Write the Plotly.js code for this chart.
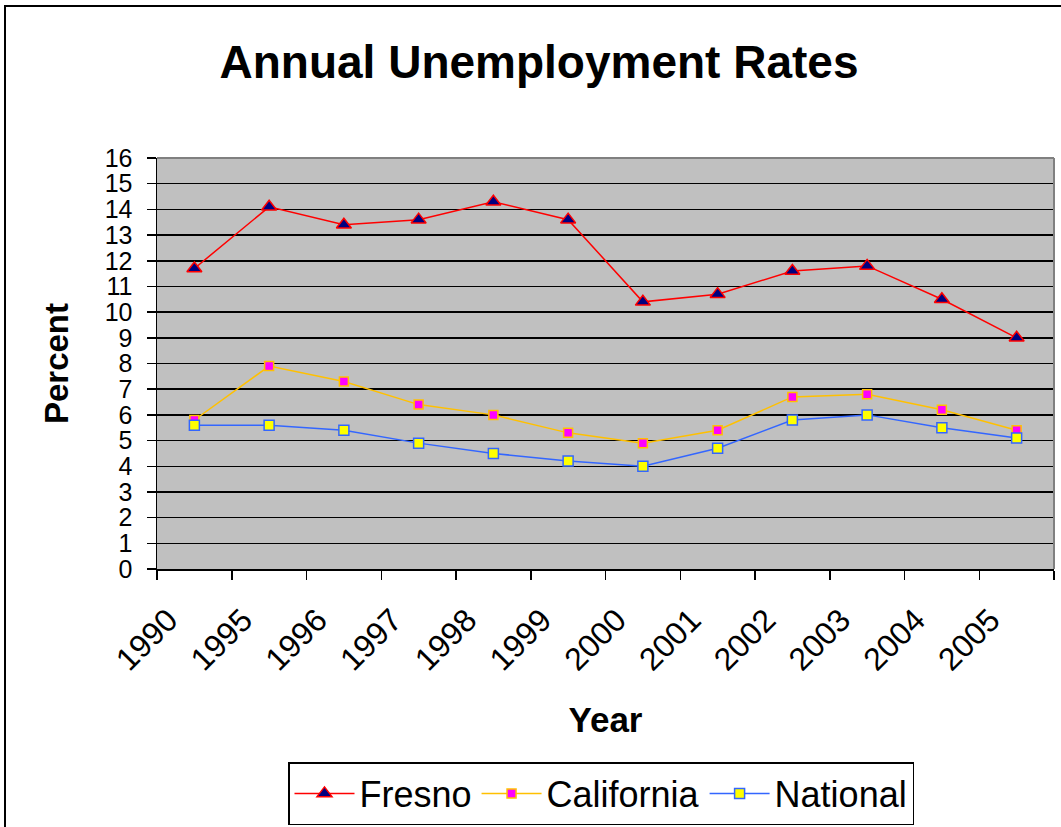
<!DOCTYPE html>
<html>
<head>
<meta charset="utf-8">
<script src="https://cdn.plot.ly/plotly-3.0.1.min.js"></script>
<style>
html,body{margin:0;padding:0;background:#fff;}
#chart{width:1061px;height:827px;}
</style>
</head>
<body>
<div id="chart"></div>
<script>
const years = ["1990","1995","1996","1997","1998","1999","2000","2001","2002","2003","2004","2005"];
const fresno = [11.7,14.1,13.4,13.6,14.3,13.6,10.4,10.7,11.6,11.8,10.5,9.0];
const california = [5.8,7.9,7.3,6.4,6.0,5.3,4.9,5.4,6.7,6.8,6.2,5.4];
const national = [5.6,5.6,5.4,4.9,4.5,4.2,4.0,4.7,5.8,6.0,5.5,5.1];

const traces = [
  {x: years, y: fresno, name: "Fresno", type: "scatter", mode: "lines+markers",
   line: {color: "#FF0000", width: 1.5},
   marker: {symbol: "triangle-up", size: 13, color: "#000080", line: {color: "#FF0000", width: 1.5}}},
  {x: years, y: california, name: "California", type: "scatter", mode: "lines+markers",
   line: {color: "#FFC000", width: 1.5},
   marker: {symbol: "square", size: 9, color: "#FF00FF", line: {color: "#FFC000", width: 1.5}}},
  {x: years, y: national, name: "National", type: "scatter", mode: "lines+markers",
   line: {color: "#3366FF", width: 1.5},
   marker: {symbol: "square", size: 10, color: "#FFFF00", line: {color: "#3366FF", width: 1.5}}}
];

const W = 1061, H = 827;
const ml = 157, mr = 7, mt = 158, mb = 258;
const pw = W - ml - mr, ph = H - mt - mb;
const px = v => (v - ml) / pw;
const py = v => (H - mb - v) / ph;

const layout = {
  width: W, height: H,
  margin: {l: ml, r: mr, t: mt, b: mb, pad: 0, autoexpand: false},
  paper_bgcolor: "#FFFFFF",
  plot_bgcolor: "#C0C0C0",
  font: {family: "Liberation Sans, Arial, sans-serif", color: "#000"},
  title: {text: "<b>Annual Unemployment Rates</b>", font: {size: 46, color: "#000"},
          x: 539/W, xref: "container", xanchor: "center", y: 1 - 62/H, yanchor: "middle"},
  xaxis: {
    type: "category", tickson: "boundaries", automargin: false,
    ticks: "outside", ticklen: 9, tickwidth: 1.5, tickcolor: "#000",
    tickangle: -45, tickfont: {size: 32, color: "#000"},
    ticklabelstandoff: 18, ticklabelshift: -26,
    showgrid: false, zeroline: false,
    showline: true, linecolor: "#000", linewidth: 1.5,
    title: {text: "<b>Year</b>", font: {size: 35, color: "#000"}, standoff: 31},
    range: [-0.5, 11.5]
  },
  yaxis: {
    range: [0, 16], dtick: 1, tick0: 0, automargin: false,
    ticks: "outside", ticklen: 9, tickwidth: 1.5, tickcolor: "#000",
    tickfont: {size: 25, color: "#000"},
    ticklabelstandoff: 9,
    showgrid: true, gridcolor: "#000", gridwidth: 1.5,
    zeroline: false, showline: true, linecolor: "#000", linewidth: 1.5,
    title: {text: "<b>Percent</b>", font: {size: 33, color: "#000"}, standoff: 26}
  },
  showlegend: true,
  legend: {
    orientation: "h", x: 601/W, xanchor: "center", xref: "container",
    y: 1 - 825/H, yanchor: "bottom", yref: "container",
    bordercolor: "#000", borderwidth: 1.5, bgcolor: "#FFF",
    font: {size: 36, color: "#000"},
    itemwidth: 60,
    traceorder: "normal"
  },
  shapes: [
    {type: "rect", xref: "paper", yref: "paper", x0: px(5), x1: px(1075), y0: py(6), y1: py(840),
     line: {color: "#000", width: 2}, fillcolor: "rgba(0,0,0,0)", layer: "below"},
    {type: "line", xref: "paper", yref: "paper", x0: 0, x1: 1, y0: 1, y1: 1,
     line: {color: "#808080", width: 2}, layer: "above"},
    {type: "line", xref: "paper", yref: "paper", x0: 1, x1: 1, y0: 0, y1: 1,
     line: {color: "#808080", width: 2}, layer: "above"}
  ]
};

Plotly.newPlot("chart", traces, layout, {displayModeBar: false, staticPlot: true});
</script>
</body>
</html>
